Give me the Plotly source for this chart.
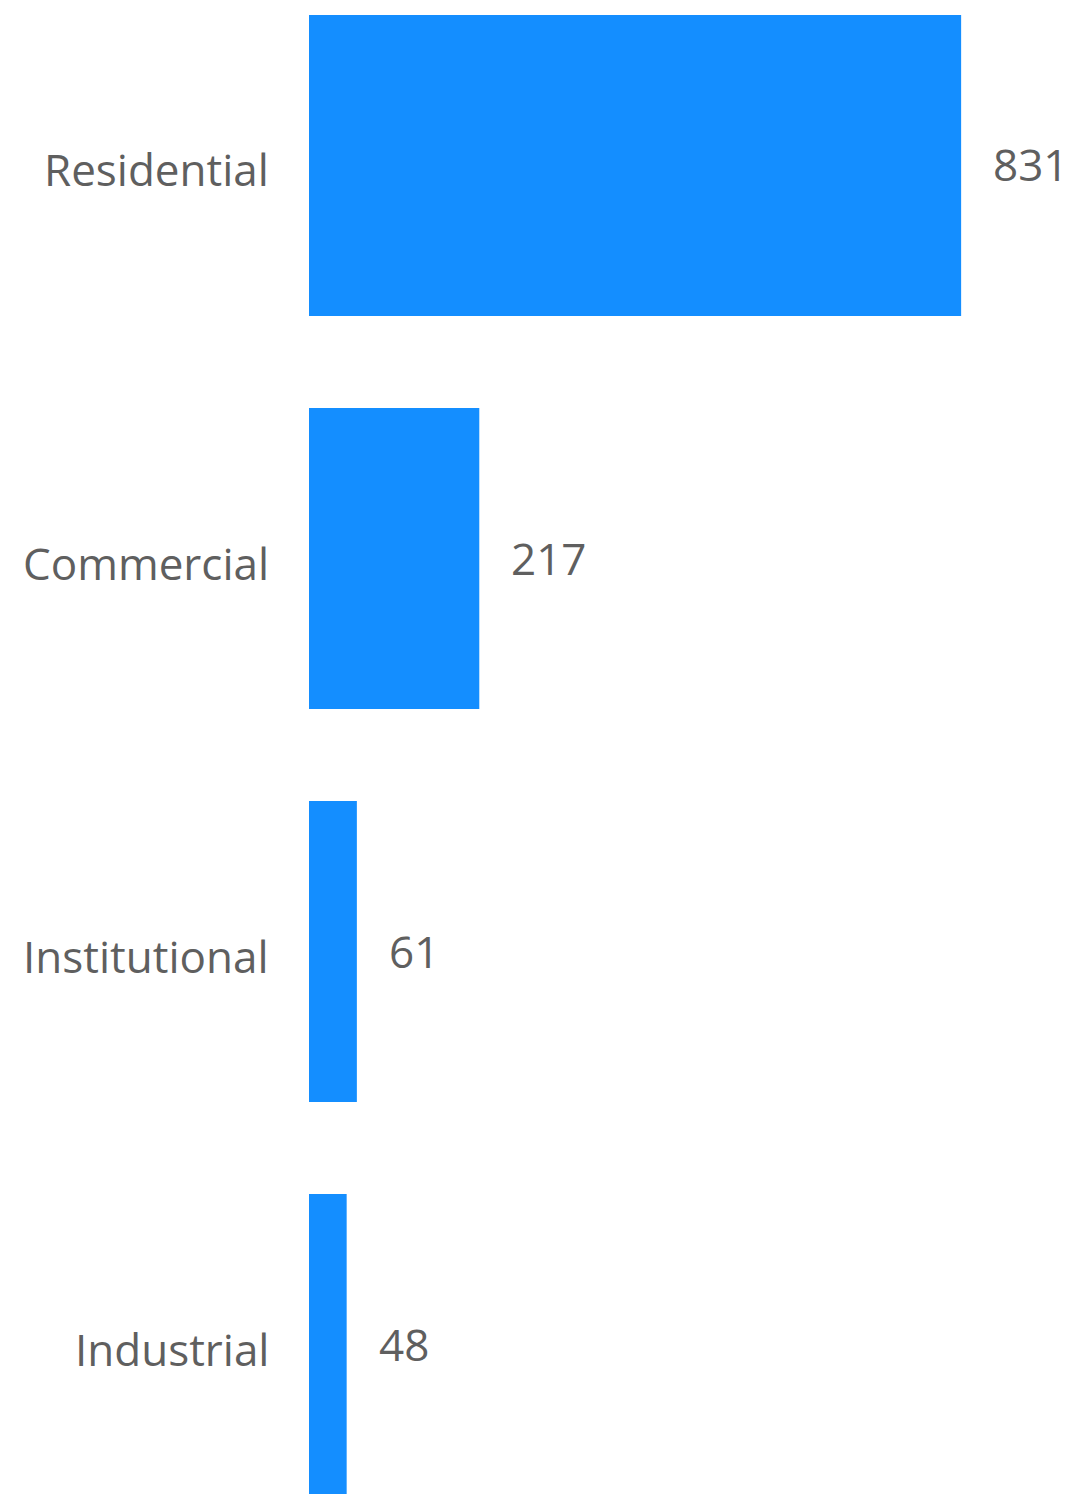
import plotly.graph_objects as go

categories = ["Residential", "Commercial", "Institutional", "Industrial"]
values = [831, 217, 61, 48]

FONT = "Open Sans"
TXT = "#5f5f5f"
BAR = "#148EFF"

fig = go.Figure(go.Bar(
    x=values, y=categories, orientation="h",
    marker=dict(color=BAR, line=dict(width=0)),
    hoverinfo="skip",
))

for c, v in zip(categories, values):
    fig.add_annotation(x=v, y=c, text=str(v), showarrow=False,
                       xanchor="left", yanchor="middle", xshift=30, yshift=1,
                       font=dict(family=FONT, size=44, color=TXT))
    fig.add_annotation(x=0, y=c, text=c, showarrow=False,
                       xanchor="right", yanchor="middle", xshift=-38, yshift=-4,
                       font=dict(family=FONT, size=44, color=TXT))

fig.update_layout(
    width=1071, height=1494,
    margin=dict(l=309, r=0, t=0, b=0),
    paper_bgcolor="white", plot_bgcolor="white",
    bargap=0.234, showlegend=False,
    xaxis=dict(range=[0, 971], visible=False),
    yaxis=dict(range=[3.38, -0.421], showgrid=False, zeroline=False,
               showline=False, ticks="", showticklabels=False),
)
fig.write_html("out.html")
